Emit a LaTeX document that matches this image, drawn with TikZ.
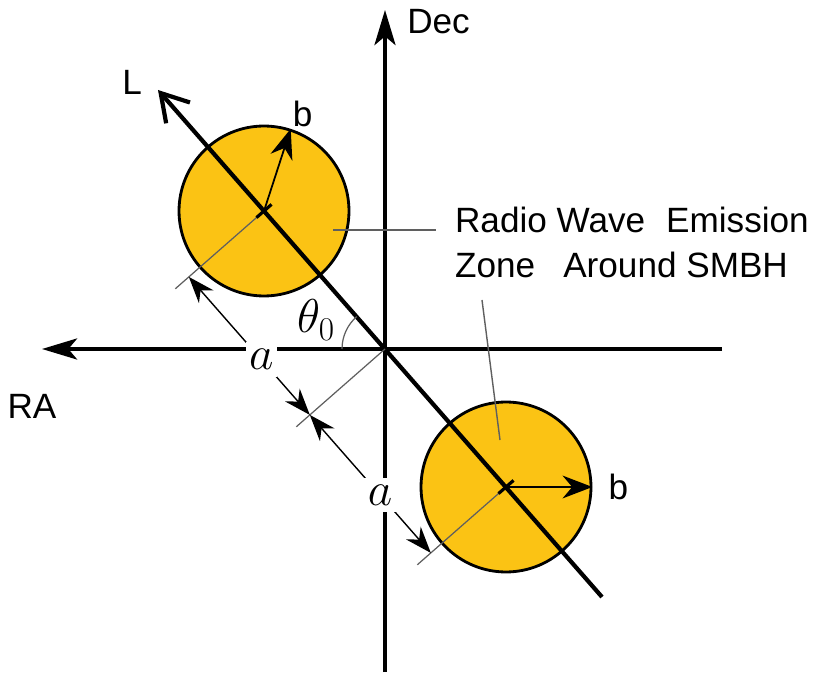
\RequirePackage{fix-cm}
\documentclass[tikz,border=0pt]{standalone}
\usepackage{fontspec}
\setmainfont{Liberation Sans}
\usepackage{tikz}
\usetikzlibrary{arrows.meta,positioning,calc}
\usepackage{xcolor}
\definecolor{zonefill}{RGB}{251,195,20}
\definecolor{leadgray}{RGB}{95,95,95}

\begin{document}
\begin{tikzpicture}[x=0.02cm, y=-0.02cm, >=Stealth,
  axis/.style={line width=2pt, -{Stealth[length=20pt,width=12pt,inset=5pt]}},
  zone/.style={circle, draw, line width=1.6pt, fill=zonefill, minimum size=3.4cm, inner sep=0pt},
  extline/.style={line width=0.7pt, leadgray},
  leader/.style={line width=0.8pt, leadgray},
  dimline/.style={line width=0.8pt, {Stealth[length=15pt,width=11pt]}-{Stealth[length=15pt,width=11pt]}},
  barrow/.style={line width=1pt, -{Stealth[length=17pt,width=13pt]}},
  tickmark/.style={line width=1.8pt},
  lbl/.style={font=\fontsize{20}{25.5}\selectfont, inner sep=1pt},
  mlbl/.style={font=\fontsize{27}{30}\selectfont, inner xsep=2pt, inner ysep=4pt}]

  \useasboundingbox (0,0) rectangle (825,675);

  % Define nodes
  \coordinate (O) at (385,349);
  \coordinate (DecB) at (385,672);
  \coordinate (DecT) at (385,10);
  \coordinate (RaE) at (722,349);
  \coordinate (RaW) at (42,349);
  \coordinate (Lt) at (158,90);
  \coordinate (Le) at (602,597);
  \node (Z1) [zone] at (264,211) {};
  \node (Z2) [zone] at (506,487) {};

  \coordinate (E1) at ($(Z1.center)!2.36cm!-90:(O)$);
  \coordinate (D1) at ($(Z1.center)!2cm!-90:(O)$);
  \coordinate (EO) at ($(O)!2.36cm!-90:(Z2.center)$);
  \coordinate (DO) at ($(O)!2cm!-90:(Z2.center)$);
  \coordinate (E2) at ($(Z2.center)!2.36cm!90:(O)$);
  \coordinate (D2) at ($(Z2.center)!2cm!90:(O)$);

  \coordinate (P1) at (333,230);
  \coordinate (Q1) at (436,230);
  \coordinate (P2) at (500,440);
  \coordinate (Q2) at (482,300);

  % Draw axes
  \draw[axis] (DecB) -- (DecT);
  \draw[axis] (RaE) -- (RaW);
  \draw[line width=2.4pt, -{Straight Barb[length=15pt,width=18pt]}] (Le) -- (Lt);

  % Draw extension and dimension lines
  \draw[extline] (Z1.center) -- (E1);
  \draw[extline] (O) -- (EO);
  \draw[extline] (Z2.center) -- (E2);
  \draw[dimline] (D1) -- node[mlbl, fill=white, pos=0.6] (A1) {$a$} (DO);
  \draw[dimline] (DO) -- node[mlbl, fill=white, pos=0.58] (A2) {$a$} (D2);

  % Centre marks and radii
  \draw[tickmark] ($(Z1.center)!0.2cm!90:(O)$) -- ($(Z1.center)!0.2cm!-90:(O)$);
  \draw[tickmark] ($(Z2.center)!0.2cm!90:(O)$) -- ($(Z2.center)!0.2cm!-90:(O)$);
  \draw[barrow] (Z1.center) -- (Z1.72);
  \draw[barrow] (Z2.center) -- (Z2.east);

  % Angle
  \draw[extline] (O) ++(-43,0) arc[start angle=180, end angle=131.2, radius=0.86cm];
  \node (Th) [mlbl] at (316,320) {$\theta_0$};

  % Add labels
  \node (Dec) [lbl, below right=-1.5pt and 11.5pt of DecT] {Dec};
  \node (RA) [lbl] at (32,406) {RA};
  \node (L) [lbl, above left=-4pt and 8pt of Lt] {L};
  \node (B1) [lbl, above right=0pt of Z1.72] {b};
  \node (B2) [lbl, right=8pt of Z2.east] {b};
  \node (Zone) [lbl, align=left, anchor=north west] at (453,205)
    {Radio Wave\hspace{0.6em}Emission\\Zone\hspace{0.8em}Around SMBH};
  \draw[leader] (P1) -- (Q1);
  \draw[leader] (P2) -- (Q2);
\end{tikzpicture}
\end{document}
